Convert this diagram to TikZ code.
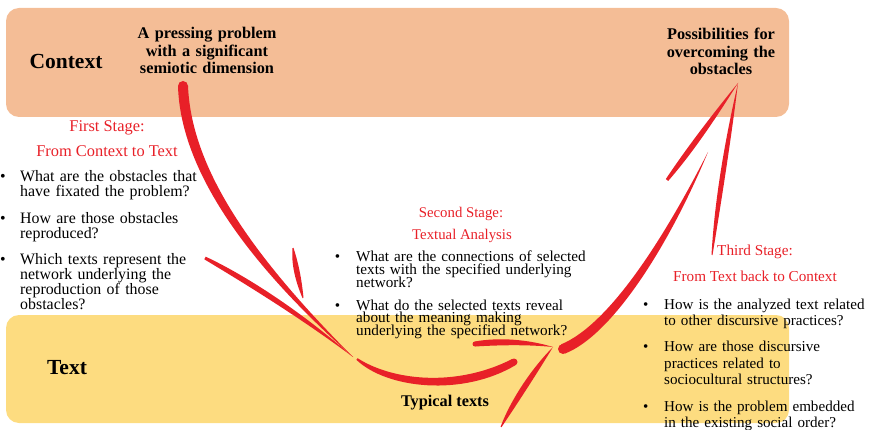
\documentclass[tikz,border=0pt]{standalone}
\usepackage{fontspec}
\setmainfont{Liberation Serif}
\usepackage{tikz}
\usetikzlibrary{calc}
\definecolor{ctxorange}{RGB}{244, 189, 150}
\definecolor{txtyellow}{RGB}{253, 220, 128}
\definecolor{mred}{RGB}{232, 32, 40}
\newcommand{\bigbold}{\fontsize{21.5}{24}\selectfont\bfseries}
\newcommand{\headfont}{\fontsize{16.3}{17.8}\selectfont\bfseries\lineskiplimit=-\maxdimen\relax}
\newcommand{\qfontone}{\fontsize{15.9}{15.3}\selectfont\lineskiplimit=-\maxdimen\relax}
\newcommand{\qfonttwo}{\fontsize{15.2}{12.8}\selectfont\lineskiplimit=-\maxdimen\relax}
\newcommand{\qfontthree}{\fontsize{15.1}{16.5}\selectfont\lineskiplimit=-\maxdimen\relax}
\newcommand{\brush}[8]{%
  \fill [brushred] ($#1!#5!90:#2$) .. controls ($#2!#6!-90:#1$) and ($#3!#7!90:#4$) .. ($#4!#8!-90:#3$)
    -- ($#4!#8!90:#3$) .. controls ($#3!#7!-90:#4$) and ($#2!#6!90:#1$) .. ($#1!#5!-90:#2$) -- cycle;}
\tikzset{zone/.style = {rounded corners = 13pt}}
\tikzset{head/.style = {font = \headfont, align = center, text width = 180pt, anchor = base, inner sep = 0}}
\tikzset{stage/.style = {text = mred, anchor = base, inner sep = 0}}
\tikzset{question/.style = {align = left, text width = #1, anchor = base west, inner sep = 0}}
\tikzset{bul/.style = {anchor = base west, inner sep = 0}}
\tikzset{brushred/.style = {fill = mred}}

\begin{document}
\begin{tikzpicture}[x = 1pt, y = -1pt]
    \useasboundingbox (0, 0) rectangle (869, 430);
    \fill [zone, ctxorange] (6, 8) rectangle (789, 117);
    \fill [zone, txtyellow] (6, 315) rectangle (789, 423);

    \node [font = \bigbold, anchor = base, inner sep = 0] (context) at (66, 69) {Context};
    \node [font = \bigbold, anchor = base, inner sep = 0] (textlbl) at (67, 374.3) {Text};
    \node [head] (problem) at (207, 38.3) {A pressing problem\\ with a significant\\ semiotic dimension};
    \node [head] (possib) at (721, 39.3) {Possibilities for\\ overcoming the\\ obstacles};
    \node [font = \headfont, anchor = base, inner sep = 0] (typical) at (445, 406) {Typical texts};

    \node [stage, font = \fontsize{16.4}{18}\selectfont] (stageone) at (107, 131.7) {First Stage:};
    \node [stage, font = \fontsize{16.4}{18}\selectfont] (stageonesub) at (107, 156.7) {From Context to Text};
    \node [stage, font = \fontsize{14.8}{17}\selectfont] (stagetwo) at (461, 217.3) {Second Stage:};
    \node [stage, font = \fontsize{14.8}{17}\selectfont] (stagetwosub) at (462, 239.3) {Textual Analysis};
    \node [stage, font = \fontsize{15.2}{17}\selectfont] (stagethree) at (755, 255.7) {Third Stage:};
    \node [stage, font = \fontsize{15.2}{17}\selectfont] (stagethreesub) at (755, 281.7) {From Text back to Context};

    \node [question = 210pt, font = \qfontone] (qonea) at (20, 181.7) {What are the obstacles that\\ have fixated the problem?};
    \node [question = 210pt, font = \qfontone] (qoneb) at (20, 223.3) {How are those obstacles\\ reproduced?};
    \node [question = 210pt, font = \qfontone] (qonec) at (20, 264) {Which texts represent the\\ network underlying the\\ reproduction of those\\ obstacles?};
    \node [question = 250pt, font = \qfonttwo] (qtwoa) at (356, 261.7) {What are the connections of selected\\ texts with the specified underlying\\ network?};
    \node [question = 250pt, font = \qfonttwo] (qtwob) at (356, 310) {What do the selected texts reveal\\ about the meaning making\\ underlying the specified network?};
    \node [question = 220pt, font = \qfontthree] (qthreea) at (664, 309) {How is the analyzed text related\\ to other discursive practices?};
    \node [question = 220pt, font = \qfontthree] (qthreeb) at (664, 351.7) {How are those discursive\\ practices related to\\ sociocultural structures?};
    \node [question = 220pt, font = \qfontthree] (qthreec) at (664, 411) {How is the problem embedded\\ in the existing social order?};

    \node [bul, font = \qfontone] (bonea) at ([xshift = -20pt] qonea.base west) {\textbullet};
    \node [bul, font = \qfontone] (boneb) at ([xshift = -20pt] qoneb.base west) {\textbullet};
    \node [bul, font = \qfontone] (bonec) at ([xshift = -20pt] qonec.base west) {\textbullet};
    \node [bul, font = \qfonttwo] (btwoa) at ([xshift = -21.4pt] qtwoa.base west) {\textbullet};
    \node [bul, font = \qfonttwo] (btwob) at ([xshift = -21.4pt] qtwob.base west) {\textbullet};
    \node [bul, font = \qfontthree] (bthreea) at ([xshift = -21pt] qthreea.base west) {\textbullet};
    \node [bul, font = \qfontthree] (bthreeb) at ([xshift = -21pt] qthreeb.base west) {\textbullet};
    \node [bul, font = \qfontthree] (bthreec) at ([xshift = -21pt] qthreec.base west) {\textbullet};

    \coordinate (sonestart) at (183, 86);
    \coordinate (sonetip) at (353, 357);
    \brush{(sonestart)}{(186, 170)}{(250, 260)}{(sonetip)}{5pt}{5.5pt}{4.5pt}{0pt}
    \fill [brushred] (sonestart) circle [radius = 5pt];
    \brush{(205, 258)}{(250, 282)}{(305, 318)}{(sonetip)}{1.5pt}{4pt}{2.5pt}{0pt}
    \brush{(293, 248)}{(295, 265)}{(299, 282)}{(303, 298)}{0.5pt}{4pt}{3pt}{0.5pt}

    \coordinate (stwostart) at (357, 359);
    \coordinate (stwoend) at (514, 362);
    \coordinate (stwotip) at (553, 347);
    \brush{(stwostart)}{(390, 385)}{(460, 392)}{(stwoend)}{1pt}{5pt}{5.5pt}{3.5pt}
    \fill [brushred] (stwoend) circle [radius = 3.5pt];
    \brush{(475, 344)}{(500, 341)}{(528, 342)}{(stwotip)}{2.5pt}{4pt}{2.5pt}{0pt}
    \fill [brushred] (475, 344) circle [radius = 2.5pt];
    \brush{(stwotip)}{(535, 370)}{(515, 400)}{(501, 427)}{0pt}{3.5pt}{4pt}{0.5pt}

    \coordinate (sthreestart) at (563, 349);
    \coordinate (sthreeend) at (708, 152);
    \coordinate (sthreetip) at (738, 83);
    \brush{(sthreestart)}{(610, 330)}{(665, 245)}{(sthreeend)}{5pt}{5.5pt}{4pt}{0pt}
    \fill [brushred] (sthreestart) circle [radius = 5pt];
    \brush{(667, 180)}{(690, 150)}{(715, 115)}{(sthreetip)}{1.5pt}{4pt}{2.5pt}{0pt}
    \brush{(sthreetip)}{(728, 140)}{(718, 200)}{(712, 255)}{0pt}{3pt}{3.5pt}{0.5pt}
\end{tikzpicture}
\end{document}
